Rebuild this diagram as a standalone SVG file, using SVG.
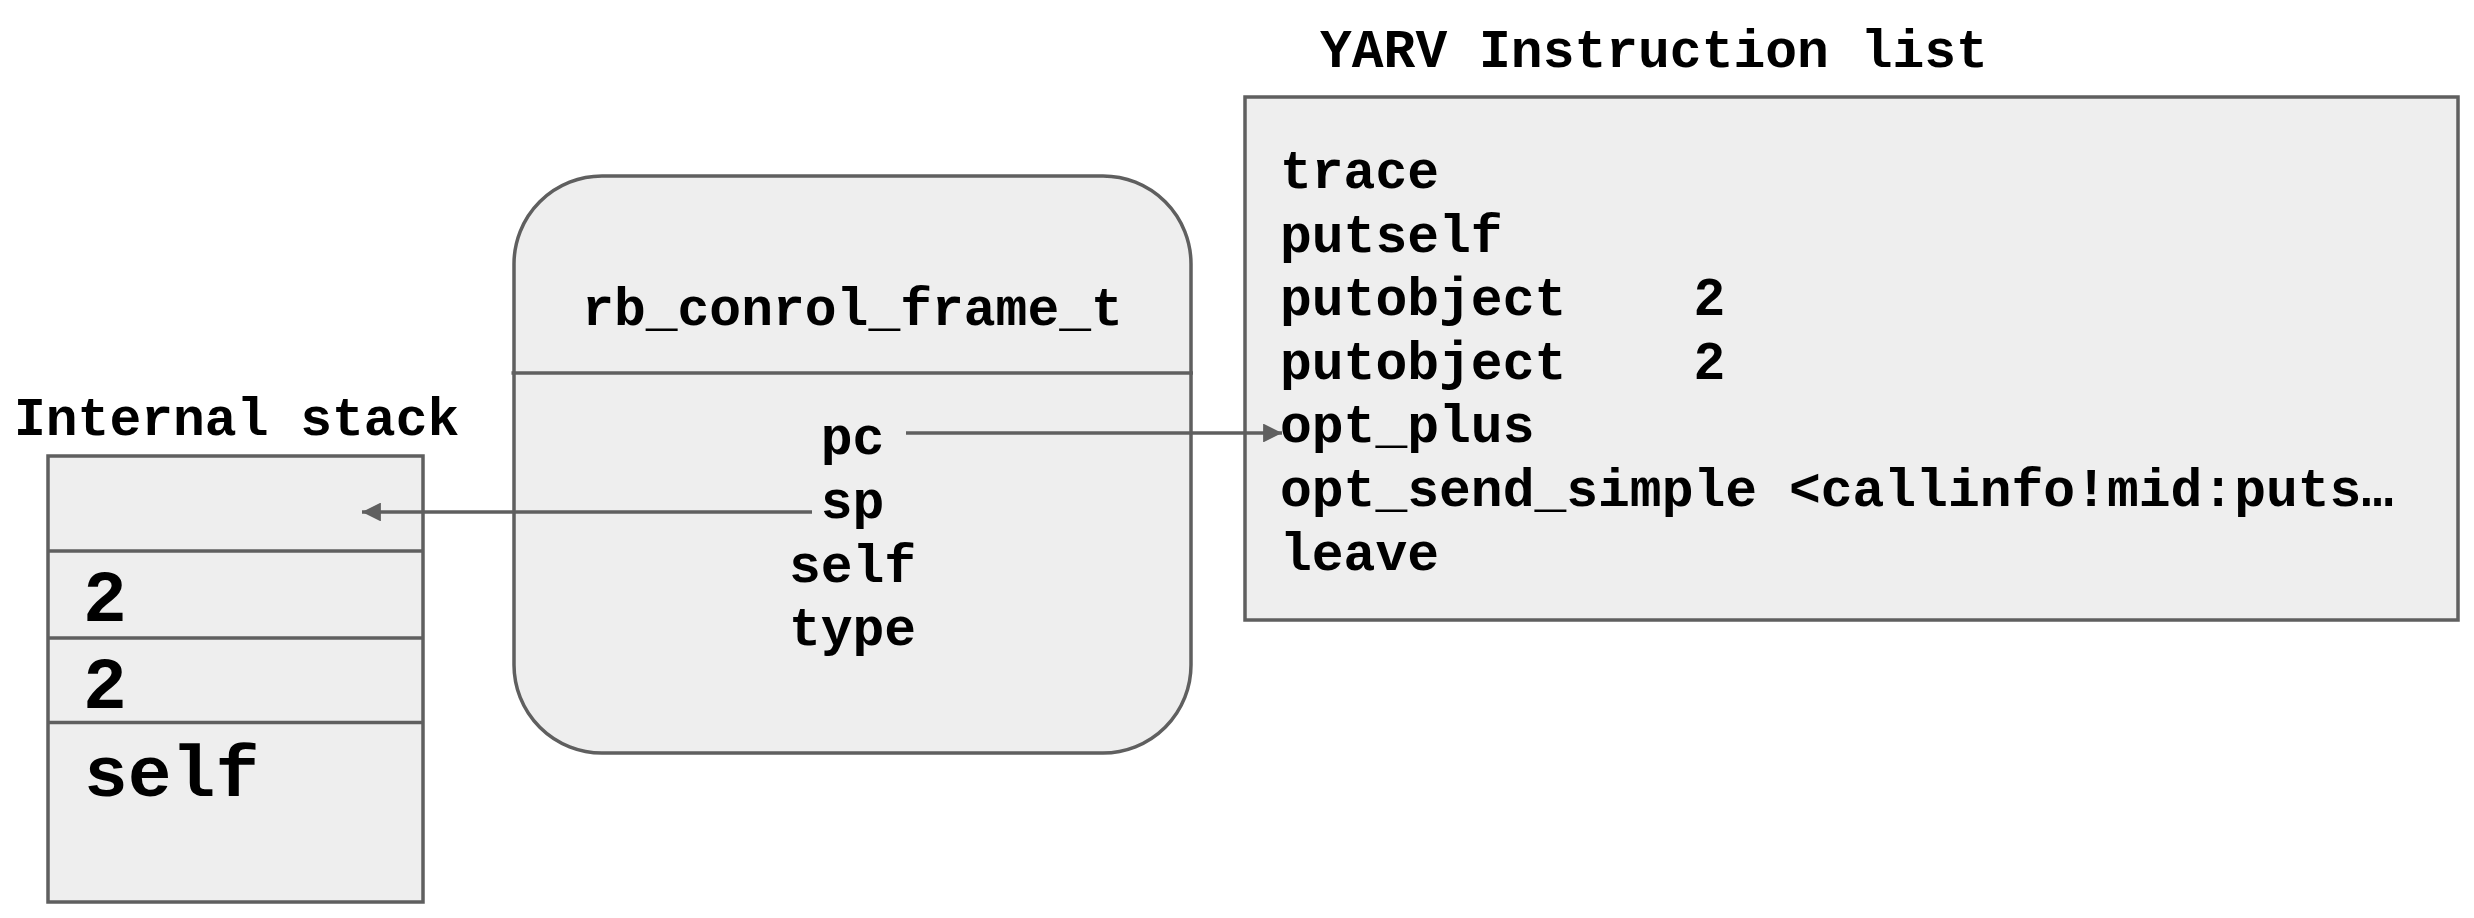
<svg xmlns="http://www.w3.org/2000/svg" width="2474" height="918" viewBox="0 0 2474 918">
<defs>
<style>
.box{fill:#eeeeee;stroke:#5f5f5f;stroke-width:3.5}
.t{font-family:"Liberation Mono","Courier New",monospace;font-weight:bold;fill:#000;font-size:53px;white-space:pre}
.big{font-size:73px}
.mid{text-anchor:middle}
.conn{fill:none;stroke:#5f5f5f;stroke-width:3.5}
</style>
<marker id="ah" viewBox="0 0 10 10" refX="10" refY="5" markerWidth="7.4" markerHeight="5.4" markerUnits="strokeWidth" orient="auto">
<path d="M0,0 L10,5 L0,10 z" fill="#5f5f5f"/>
</marker>
</defs>
<rect width="2474" height="918" fill="#ffffff"/>
<g id="stack">
<text class="t" x="14" y="435">Internal stack</text>
<rect class="box" x="48" y="456" width="375" height="446"/>
<line class="conn" x1="48" y1="551" x2="423" y2="551"/>
<line class="conn" x1="48" y1="638" x2="423" y2="638"/>
<line class="conn" x1="48" y1="722.5" x2="423" y2="722.5"/>
<text class="t big" x="83" y="621">2</text>
<text class="t big" x="83" y="708">2</text>
<text class="t big" x="84" y="796">self</text>
</g>
<g id="frame">
<rect class="box" x="514" y="176" width="677" height="577" rx="88" ry="88"/>
<line class="conn" x1="511.5" y1="373" x2="1193" y2="373"/>
<text class="t mid" x="852.5" y="325">rb_conrol_frame_t</text>
<text class="t mid" x="852.5" y="454">pc</text>
<text class="t mid" x="852.5" y="518">sp</text>
<text class="t mid" x="852.5" y="582">self</text>
<text class="t mid" x="852.5" y="645">type</text>
</g>
<g id="instructions">
<text class="t" x="1320" y="67">YARV Instruction list</text>
<rect class="box" x="1245" y="97" width="1213" height="523"/>
<text class="t" x="1280" y="188">trace</text>
<text class="t" x="1280" y="251.6">putself</text>
<text class="t" x="1280" y="315.2">putobject    2</text>
<text class="t" x="1280" y="378.8">putobject    2</text>
<text class="t" x="1280" y="442.4">opt_plus</text>
<text class="t" x="1280" y="506">opt_send_simple &lt;callinfo!mid:puts…</text>
<text class="t" x="1280" y="569.6">leave</text>
</g>
<g id="connectors">
<line class="conn" x1="906" y1="433" x2="1282" y2="433" marker-end="url(#ah)"/>
<line class="conn" x1="812" y1="512" x2="362" y2="512" marker-end="url(#ah)"/>
</g>
</svg>
